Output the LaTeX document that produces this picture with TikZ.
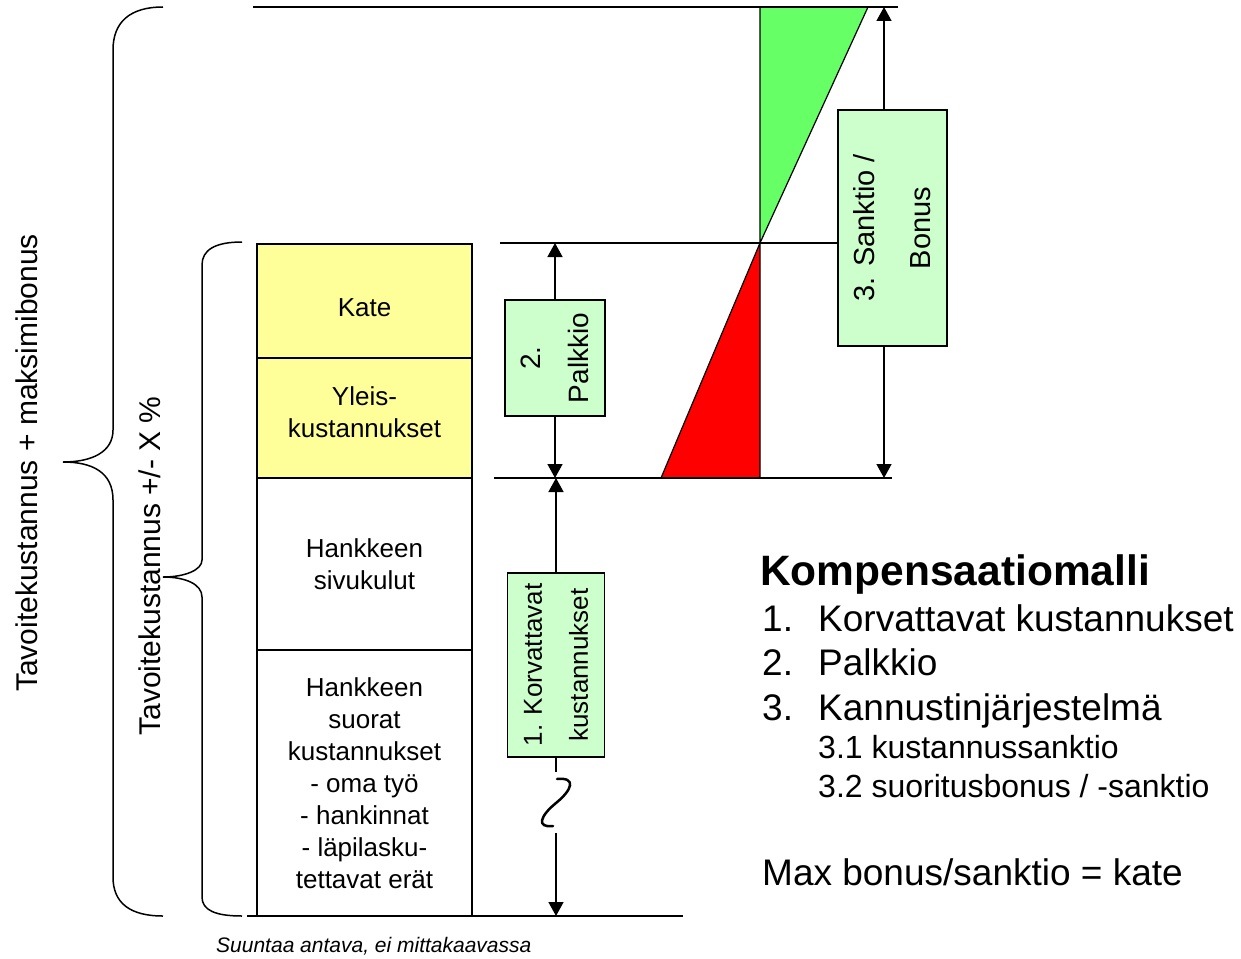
\documentclass[tikz,border=0pt]{standalone}
\usepackage{fontspec}
\setmainfont{Liberation Sans}
\usetikzlibrary{arrows.meta}

\definecolor{lightyellow}{HTML}{FFFF99}
\definecolor{lightgreen}{HTML}{CCFFCC}
\definecolor{bonusgreen}{HTML}{66FF66}

\begin{document}
\begin{tikzpicture}[x=1pt,y=-1pt,
  colbox/.style={draw,line width=1.2pt,minimum width=215pt,inner sep=0pt,align=center,font=\fontsize{26}{32}\selectfont},
  greenbox/.style={draw,line width=1.2pt,fill=lightgreen,rotate=90,inner sep=0pt,align=center},
  dimarrow/.style={line width=1.5pt,-{Triangle[length=14pt,width=15pt]}},
  limitline/.style={line width=2pt},
  listtext/.style={anchor=base west,inner sep=0pt,font=\fontsize{37}{43}\selectfont}]
\useasboundingbox (0,0) rectangle (1241,958);

% kolmiot
\filldraw[fill=bonusgreen,line width=1.2pt] (760,7) -- (868,7) -- (760,243) -- cycle;
\filldraw[fill=red,line width=1.2pt] (760,243) -- (760,478) -- (661,478) -- cycle;

% tasoviivat
\draw[limitline] (253,7) -- (898,7);
\draw[limitline] (500,243) -- (838,243);
\draw[limitline] (494,478) -- (892,478);
\draw[limitline] (247,916) -- (683,916);

% kustannuspylvas
\node[colbox,fill=lightyellow,minimum height=114pt,text height=31pt,text depth=0pt] (kate) at (364.5,301) {Kate};
\node[colbox,fill=lightyellow,minimum height=120pt,text depth=12pt] (yleis) at (364.5,418) {Yleis-\\kustannukset};
\node[colbox,minimum height=172pt] (sivukulut) at (364.5,564) {Hankkeen\\sivukulut};
\node[colbox,minimum height=266pt] (suorat) at (364.5,783) {Hankkeen\\suorat\\kustannukset\\- oma työ\\- hankinnat\\- läpilasku-\\tettavat erät};

% osat 1-3
\node[greenbox,minimum width=116pt,minimum height=100pt,font=\fontsize{28}{48}\selectfont] (palkkio) at (555,358) {2.\\Palkkio};
\node[greenbox,minimum width=184pt,minimum height=97pt,font=\fontsize{26}{46}\selectfont] (korvattavat) at (556,665) {1. Korvattavat\\kustannukset};
\node[greenbox,minimum width=236pt,minimum height=109pt,font=\fontsize{29}{56}\selectfont] (sanktio) at (892.5,228) {3. Sanktio /\\Bonus};

\coordinate (palkkioTop) at (555,243);
\coordinate (palkkioBot) at (555,478);
\coordinate (korvTop) at (556,478);
\coordinate (breakTop) at (556,772);
\coordinate (breakBot) at (556,833);
\coordinate (korvBot) at (556,916);
\coordinate (bonusTop) at (884,7);
\coordinate (bonusBot) at (884,478);

\draw[dimarrow] (palkkio.east) -- (palkkioTop);
\draw[dimarrow] (palkkio.west) -- (palkkioBot);
\draw[dimarrow] (korvattavat.east) -- (korvTop);
\draw[line width=1.5pt] (korvattavat.west) -- (breakTop);
\draw[line width=2.5pt,line cap=round] (557,779) .. controls (577,777) and (572,790) .. (556,803) .. controls (540,816) and (536,828) .. (553,826);
\draw[dimarrow] (breakBot) -- (korvBot);
\draw[dimarrow] (sanktio.east -| bonusTop) -- (bonusTop);
\draw[dimarrow] (sanktio.west -| bonusBot) -- (bonusBot);

% aaltosulkeet
\draw[line width=1.5pt] (163,7) .. controls (130,7) and (113,22) .. (113,50) -- (113,430) .. controls (113,452) and (92,462) .. (63,462) .. controls (92,462) and (113,472) .. (113,500) -- (113,877) .. controls (113,903) and (130,916) .. (163,916);
\draw[line width=1.5pt] (242,242) .. controls (215,242) and (202,250) .. (202,265) -- (202,560) .. controls (202,570) and (185,577) .. (163,577) .. controls (185,577) and (202,584) .. (202,597) -- (202,897) .. controls (202,910) and (215,916) .. (242,916);

\node[rotate=90,font=\fontsize{30}{36}\selectfont] (maxlabel) at (27,463) {Tavoitekustannus + maksimibonus};
\node[rotate=90,font=\fontsize{30}{36}\selectfont] (xlabel) at (150,566) {Tavoitekustannus +/- X \%};

% selite
\node[anchor=base west,inner sep=0pt,font=\fontsize{42.5}{50}\selectfont\bfseries] (otsikko) at (760,585) {Kompensaatiomalli};
\foreach \n/\t/\y in {1/Korvattavat kustannukset/631, 2/Palkkio/675, 3/Kannustinjärjestelmä/720}{
  \node[listtext] (num\n) at (762,\y) {\n.};
  \node[listtext] (item\n) at (818,\y) {\t};
}
\node[listtext,font=\fontsize{32}{38}\selectfont] (sub1) at (818,758) {3.1 kustannussanktio};
\node[listtext,font=\fontsize{32}{38}\selectfont] (sub2) at (818,797) {3.2 suoritusbonus / -sanktio};
\node[listtext] (maxline) at (762,885) {Max bonus/sanktio = kate};

\node[anchor=base west,inner sep=0pt,font=\fontsize{21}{25}\selectfont\itshape] (huom) at (216,952) {Suuntaa antava, ei mittakaavassa};
\end{tikzpicture}
\end{document}
